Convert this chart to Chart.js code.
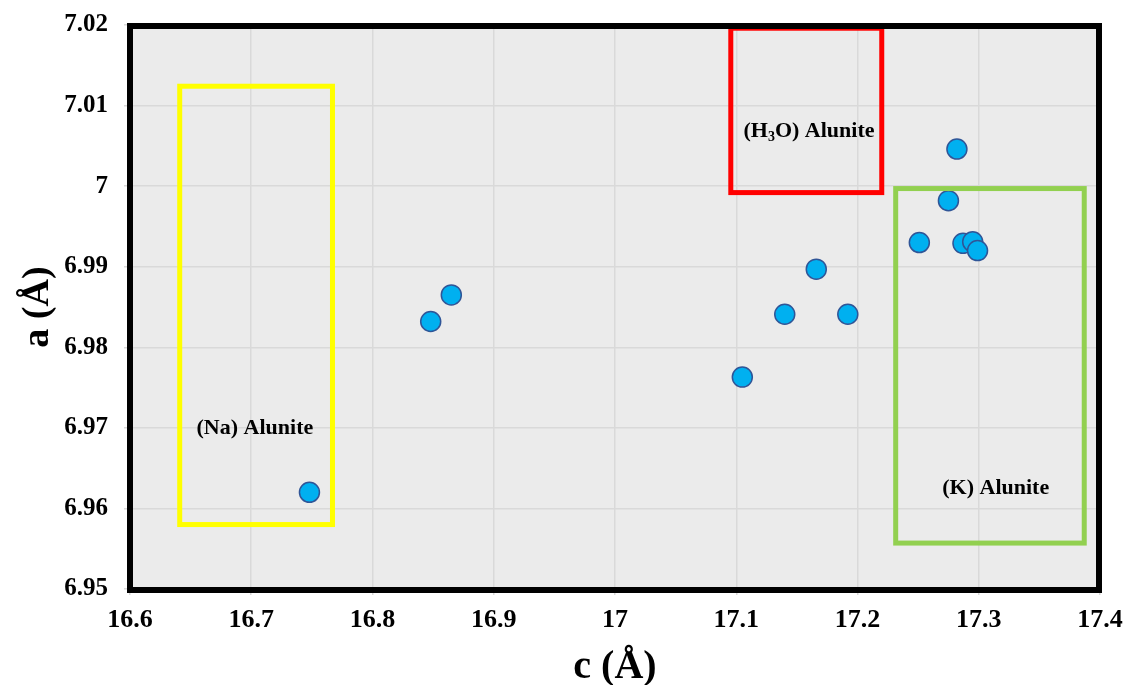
<!DOCTYPE html>
<html>
<head>
<meta charset="utf-8">
<script src="https://cdn.jsdelivr.net/npm/chart.js@4"></script>
<style>
  html, body { margin: 0; padding: 0; background: #ffffff; }
  #wrap { width: 1125px; height: 685px; }
</style>
</head>
<body>
<div id="wrap"><canvas id="latticeChart"></canvas></div>
<script>
// lattice parameters c and a (Å)
const cValues = [16.748, 16.848, 16.865, 17.105, 17.140, 17.166, 17.192, 17.251, 17.275, 17.282, 17.287, 17.295, 17.299];
const aValues = [6.9620, 6.9832, 6.9865, 6.9763, 6.9841, 6.9897, 6.9841, 6.9930, 6.9982, 7.0046, 6.9929, 6.9931, 6.9920];

const xTicks = [16.6, 16.7, 16.8, 16.9, 17.0, 17.1, 17.2, 17.3, 17.4];
const xTickLabels = ["16.6", "16.7", "16.8", "16.9", "17", "17.1", "17.2", "17.3", "17.4"];
const yTicks = [6.95, 6.96, 6.97, 6.98, 6.99, 7.00, 7.01, 7.02];
const yTickLabels = ["6.95", "6.96", "6.97", "6.98", "6.99", "7", "7.01", "7.02"];

// group boxes in data units: [cMin, cMax, aMin, aMax]
const groupNames = ["(Na) Alunite", "(H3O) Alunite", "(K) Alunite"];
const groupBoxes = [
  [16.641, 16.767, 6.9580, 7.0124],
  [17.0955, 17.220, 6.9992, 7.0196],
  [17.2315, 17.387, 6.9557, 6.9997]
];
const groupLabelPos = [[16.703, 6.9699], [17.160, 7.0068], [17.314, 6.9625]];
const groupColors = ["#FFFF00", "#FF0000", "#92D050"];

const serif = "'Liberation Serif', 'Times New Roman', serif";

const points = cValues.map((c, i) => ({ x: c, y: aValues[i] }));

const plotFrame = {
  id: "plotFrame",
  beforeDraw(chart) {
    const { ctx, chartArea: a } = chart;
    ctx.save();
    ctx.fillStyle = "#EBEBEB";
    ctx.fillRect(a.left, a.top, a.right - a.left, a.bottom - a.top);
    ctx.restore();
  },
  afterDatasetsDraw(chart) {
    const { ctx, scales } = chart;
    const xs = scales.x, ys = scales.y;
    ctx.save();
    // group boxes
    groupBoxes.forEach((b, i) => {
      const x1 = xs.getPixelForValue(b[0]), x2 = xs.getPixelForValue(b[1]);
      const y1 = ys.getPixelForValue(b[3]), y2 = ys.getPixelForValue(b[2]);
      ctx.strokeStyle = groupColors[i];
      ctx.lineWidth = 5;
      ctx.strokeRect(x1, y1, x2 - x1, y2 - y1);
    });
    // group labels
    ctx.fillStyle = "#000000";
    ctx.textBaseline = "middle";
    const big = "bold 22px " + serif, small = "bold 14px " + serif;
    groupNames.forEach((name, i) => {
      const px = xs.getPixelForValue(groupLabelPos[i][0]);
      const py = ys.getPixelForValue(groupLabelPos[i][1]);
      if (name.startsWith("(H3O)")) {
        // subscript 3
        ctx.font = big;
        const w1 = ctx.measureText("(H").width, w3 = ctx.measureText("O) Alunite").width;
        ctx.font = small;
        const w2 = ctx.measureText("3").width;
        let x = px - (w1 + w2 + w3) / 2;
        ctx.textAlign = "left";
        ctx.font = big;
        ctx.fillText("(H", x, py);
        x += w1;
        ctx.font = small;
        ctx.fillText("3", x, py + 6);
        x += w2;
        ctx.font = big;
        ctx.fillText("O) Alunite", x, py);
      } else {
        ctx.font = big;
        ctx.textAlign = "center";
        ctx.fillText(name, px, py);
      }
    });
    ctx.restore();
  },
  afterDraw(chart) {
    const { ctx, chartArea: a } = chart;
    ctx.save();
    ctx.strokeStyle = "#000000";
    ctx.lineWidth = 6;
    ctx.strokeRect(a.left, a.top + 1, a.right - a.left - 1, a.bottom - a.top);
    ctx.restore();
  }
};

new Chart(document.getElementById("latticeChart").getContext("2d"), {
  type: "scatter",
  data: {
    datasets: [{
      label: "a vs c",
      data: points,
      pointRadius: 10,
      pointHoverRadius: 10,
      backgroundColor: "#00B0F0",
      borderColor: "#2F5597",
      borderWidth: 1.5
    }]
  },
  options: {
    responsive: true,
    maintainAspectRatio: false,
    animation: false,
    layout: { padding: { top: 25, right: 25, left: 0, bottom: 0 } },
    plugins: {
      legend: { display: false },
      tooltip: { enabled: false }
    },
    scales: {
      x: {
        type: "linear",
        min: 16.6,
        max: 17.4,
        afterBuildTicks(scale) { scale.ticks = xTicks.map(v => ({ value: v })); },
        afterFit(scale) {
          scale.height = 96;
          scale.paddingLeft = 0;
          scale.paddingRight = 0;
        },
        ticks: {
          callback: (v, i) => xTickLabels[i],
          color: "#000000",
          padding: 10,
          maxRotation: 0,
          font: { family: serif, size: 26, weight: "bold" }
        },
        grid: { color: "#D9D9D9", lineWidth: 1.5, tickLength: 6 },
        border: { display: false },
        title: {
          display: true,
          text: "c (Å)",
          color: "#000000",
          padding: { top: 0, bottom: 0 },
          font: { family: serif, size: 40, weight: "bold", lineHeight: 0.85 }
        }
      },
      y: {
        type: "linear",
        min: 6.95,
        max: 7.02,
        afterBuildTicks(scale) { scale.ticks = yTicks.map(v => ({ value: v })); },
        afterFit(scale) {
          scale.width = 130;
          scale.paddingTop = 0;
          scale.paddingBottom = 0;
        },
        ticks: {
          callback: (v, i) => yTickLabels[i],
          color: "#000000",
          padding: 16,
          font: { family: serif, size: 25, weight: "bold" }
        },
        grid: { color: "#D9D9D9", lineWidth: 1.5, tickLength: 6 },
        border: { display: false },
        title: {
          display: true,
          text: "a (Å)",
          color: "#000000",
          padding: { top: 15, bottom: 0 },
          font: { family: serif, size: 38, weight: "bold" }
        }
      }
    }
  },
  plugins: [plotFrame]
});
</script>
</body>
</html>
